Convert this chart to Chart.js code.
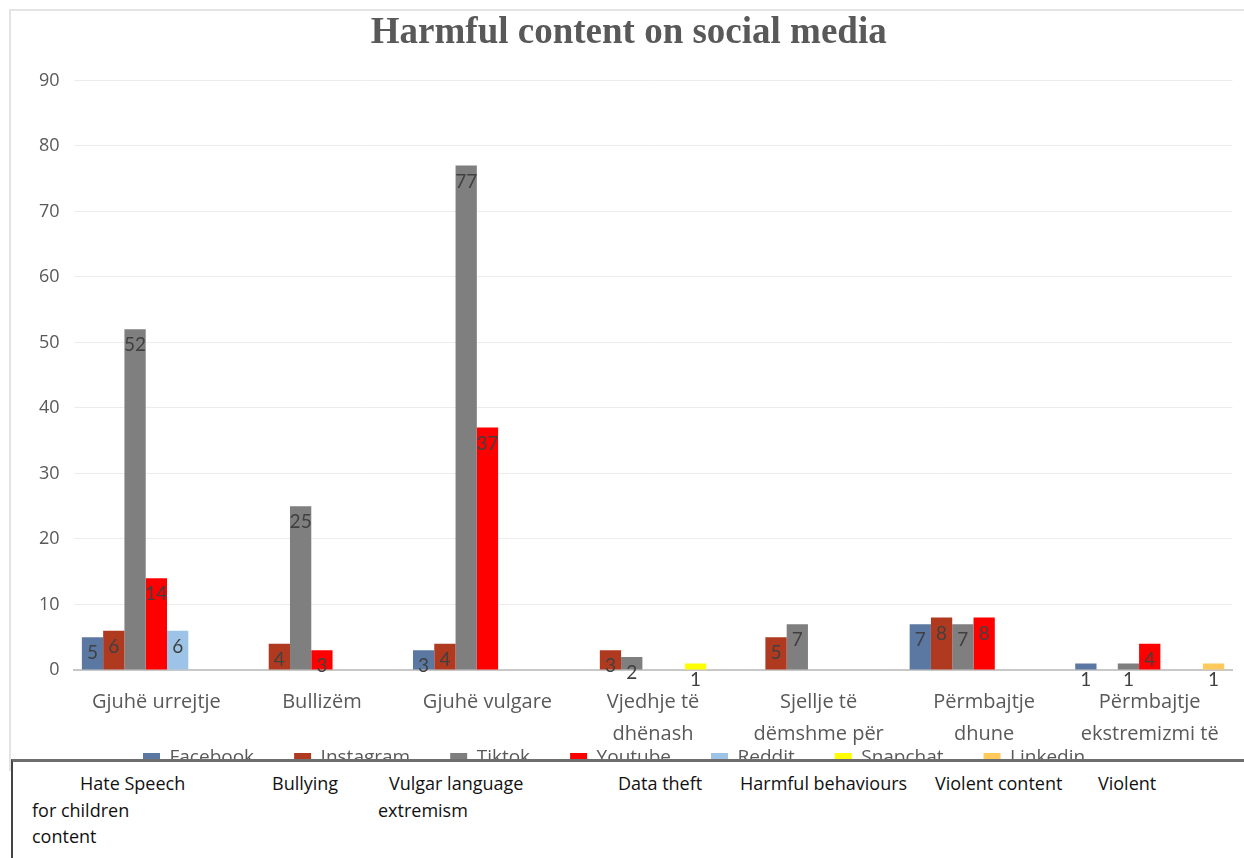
<!DOCTYPE html>
<html><head><meta charset="utf-8">
<script src="https://cdn.jsdelivr.net/npm/chart.js@4.4.1/dist/chart.umd.min.js"></script>
<style>
html,body{margin:0;padding:0;background:#fff;width:1244px;height:858px;overflow:hidden;}
#frame{position:absolute;left:9px;top:9px;width:1240px;height:760px;border-top:2px solid #e4e4e4;border-left:2px solid #e4e4e4;}
#wrap{position:absolute;left:11px;top:11px;width:1233px;height:785px;}
#box{position:absolute;left:11px;top:759px;width:1240px;height:110px;background:#fff;border-top:3px solid #6e6e6e;border-left:2px solid #444;}
.tr{position:absolute;font-family:"Open Sans";font-size:18px;color:#111;white-space:nowrap;line-height:20px;}
</style>
</head><body>
<div id="frame"></div>
<div id="wrap"><canvas id="c"></canvas></div>
<div id="box"></div>
<script>
const categories = [
  ['Gjuhë urrejtje'],
  ['Bullizëm'],
  ['Gjuhë vulgare'],
  ['Vjedhje të', 'dhënash'],
  ['Sjellje të', 'dëmshme për'],
  ['Përmbajtje', 'dhune'],
  ['Përmbajtje', 'ekstremizmi të']
];
const seriesNames = ['Facebook', 'Instagram', 'Tiktok', 'Youtube', 'Reddit', 'Snapchat', 'Linkedin'];
const facebook  = [5, null, 3, null, null, 7, 1];
const instagram = [6, 4, 4, 3, 5, 8, null];
const tiktok    = [52, 25, 77, 2, 7, 7, 1];
const youtube   = [14, 3, 37, null, null, 8, 4];
const reddit    = [6, null, null, null, null, null, null];
const snapchat  = [null, null, null, 1, null, null, null];
const linkedin  = [null, null, null, null, null, null, 1];
const yTicks = [0, 10, 20, 30, 40, 50, 60, 70, 80, 90];
const translations = [
  'Hate Speech', 'for children', 'content', 'Bullying', 'Vulgar language', 'extremism',
  'Data theft', 'Harmful behaviours', 'Violent content', 'Violent'
];
const translationPos = [
  [80, 773], [32, 800], [32, 826], [272, 773], [389, 773], [378, 800],
  [618, 773], [740, 773], [935, 773], [1098, 773]
];
const colors = ['#5b78a2', '#b03a20', '#7f7f7f', '#ff0000', '#9dc3e6', '#ffff00', '#ffc95c'];
const values = [facebook, instagram, tiktok, youtube, reddit, snapchat, linkedin];

translations.forEach((t, i) => {
  const d = document.createElement('div');
  d.className = 'tr';
  d.textContent = t;
  d.style.left = translationPos[i][0] + 'px';
  d.style.top = translationPos[i][1] + 'px';
  document.body.appendChild(d);
});

const labelPlugin = {
  id: 'barLabels',
  afterDatasetsDraw(chart) {
    const ctx = chart.ctx;
    ctx.save();
    ctx.font = '19px Lato';
    ctx.fillStyle = '#404040';
    ctx.textAlign = 'center';
    ctx.textBaseline = 'middle';
    chart.data.datasets.forEach((ds, di) => {
      const meta = chart.getDatasetMeta(di);
      meta.data.forEach((el, i) => {
        const v = ds.data[i];
        if (v === null || v === undefined) return;
        ctx.fillText(String(v), el.x, el.y + 16);
      });
    });
    ctx.restore();
  }
};

// legend sits half-hidden behind the translation box, as in the source image
const legendShift = {
  id: 'legendShift',
  afterLayout(chart) {
    const lg = chart.legend;
    if (!lg) return;
    lg.top = 697.5;
    lg.bottom = chart.height;
    lg.left = 92;
  }
};

new Chart(document.getElementById('c'), {
  type: 'bar',
  data: {
    labels: categories,
    datasets: seriesNames.map((n, i) => ({
      label: n,
      data: values[i],
      backgroundColor: colors[i],
      borderWidth: 0,
      categoryPercentage: 0.9,
      barPercentage: 1.0
    }))
  },
  options: {
    responsive: true,
    maintainAspectRatio: false,
    animation: false,
    layout: { padding: { left: 14, right: 11.5, top: 0, bottom: 0 } },
    plugins: {
      title: {
        display: true,
        text: 'Harmful content on social media',
        color: '#595959',
        font: { family: 'Liberation Serif', size: 37, weight: 'bold' },
        padding: { top: 0, bottom: 25 }
      },
      legend: {
        position: 'bottom',
        align: 'start',
        maxHeight: 30,
        labels: {
          color: '#595959',
          font: { family: 'Open Sans', size: 19 },
          boxWidth: 17,
          boxHeight: 10,
          padding: 40
        }
      },
      tooltip: { enabled: false }
    },
    scales: {
      x: {
        grid: { display: false, drawTicks: false },
        border: { display: true, color: '#c8c8c8', width: 2 },
        ticks: {
          color: '#595959',
          font: { family: 'Open Sans', size: 20, lineHeight: 1.6 },
          padding: 16,
          maxRotation: 0,
          autoSkip: false
        }
      },
      y: {
        min: 0,
        max: 90,
        afterBuildTicks: (s) => { s.ticks = yTicks.map(v => ({ value: v })); },
        grid: { color: '#ececec', drawTicks: false },
        border: { display: false },
        ticks: {
          color: '#595959',
          font: { family: 'Open Sans', size: 18 },
          padding: 14
        }
      }
    }
  },
  plugins: [labelPlugin, legendShift]
});
</script>
</body></html>
